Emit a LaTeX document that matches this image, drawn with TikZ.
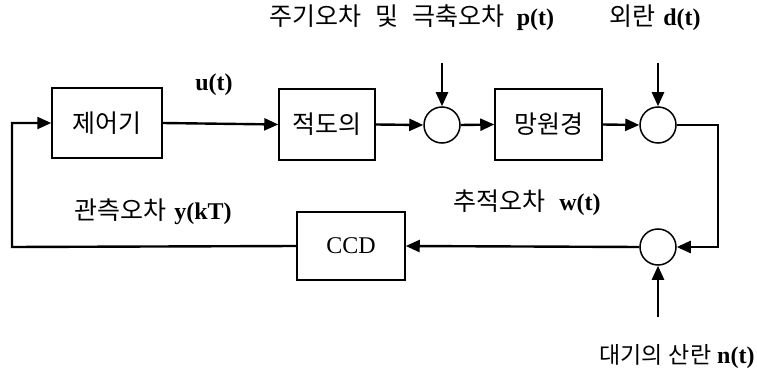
\documentclass[tikz,border=0pt]{standalone}
\usepackage{fontspec}
\setmainfont{Liberation Serif}
\newfontfamily\kr{Noto Sans CJK KR}
\usetikzlibrary{arrows.meta}
\begin{document}
\begin{tikzpicture}[x=1pt,y=-1pt,
  blk/.style={draw,line width=1.5pt,rectangle,inner sep=0pt,font=\kr\fontsize{25}{28}\selectfont},
  sumj/.style={draw,line width=1.5pt,circle,minimum size=36pt,inner sep=0pt},
  conn/.style={line width=2.4pt},
  arr/.style={conn,-{Triangle[length=14pt,width=12pt]}},
  lbl/.style={inner sep=0pt,font=\kr\fontsize{25}{28}\selectfont},
  lat/.style={font=\bfseries\fontsize{24}{26}\selectfont}
]
\useasboundingbox (0,0) rectangle (757,374);
\node[blk,minimum width=110pt,minimum height=70pt] (ctrl) at (107,123) {제어기};
\node[blk,minimum width=96pt,minimum height=71pt] (mount) at (327,124.5) {적도의};
\node[sumj] (s1) at (442,125) {};
\node[blk,minimum width=107pt,minimum height=71pt] (tel) at (548.5,124.5) {망원경};
\node[sumj] (s2) at (658,125) {};
\node[sumj] (s3) at (658,247) {};
\node[blk,minimum width=108pt,minimum height=68pt,font=\fontsize{24}{26}\selectfont] (ccd) at (351,246) {CCD};
\coordinate (rtop) at (718,125);
\coordinate (rbot) at (718,247);
\coordinate (lbot) at (12,247);
\coordinate (ltop) at (12,123);
\coordinate (pin) at (442,63);
\coordinate (din) at (658,63);
\coordinate (nin) at (658,317);
\draw[arr] (ctrl.east) -- (mount.west);
\draw[arr] (mount.east) -- (s1.west);
\draw[arr] (s1.east) -- (tel.west);
\draw[arr] (tel.east) -- (s2.west);
\draw[arr] (s2.east) -- (rtop) -- (rbot) -- (s3.east);
\draw[arr] (s3.west) -- (ccd.east);
\draw[arr] (ccd.west) -- (lbot) -- (ltop) -- (ctrl.west);
\draw[arr] (pin) -- (s1.north);
\draw[arr] (din) -- (s2.north);
\draw[arr] (nin) -- (s3.south);
\node[lbl] (lp) at (412,18) {주기오차\hspace{14pt}및\hspace{14pt}극축오차\hspace{12pt}{\normalfont\bfseries\fontsize{24}{26}\selectfont p(t)}};
\node[lbl] (ld) at (655,18) {외란\hspace{8pt}{\normalfont\bfseries\fontsize{24}{26}\selectfont d(t)}};
\node[lat] (lu) at (214,85) {u(t)};
\node[lbl] (ly) at (153,212) {관측오차\hspace{8pt}{\normalfont\bfseries\fontsize{24}{26}\selectfont y(kT)}};
\node[lbl] (lw) at (527,203) {추적오차\hspace{14pt}{\normalfont\bfseries\fontsize{24}{26}\selectfont w(t)}};
\node[lbl,font=\kr\fontsize{23}{26}\selectfont] (ln) at (677,357) {대기의\hspace{6pt}산란\hspace{6pt}{\normalfont\bfseries\fontsize{24}{26}\selectfont n(t)}};
\end{tikzpicture}
\end{document}
